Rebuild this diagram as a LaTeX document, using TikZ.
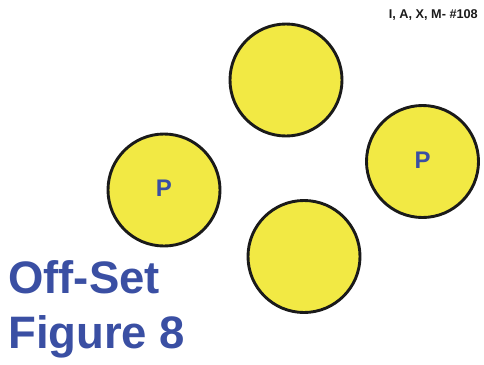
\documentclass[tikz,border=0pt]{standalone}
\usepackage{fontspec}
\setmainfont{Liberation Sans}
\usepackage{xcolor}
\usetikzlibrary{positioning}
\definecolor{ballyel}{HTML}{F2E944}
\definecolor{titleblue}{HTML}{3A4FA3}
\definecolor{ink}{HTML}{1A1A1A}
\tikzset{
  ball/.style={circle,draw=ink,fill=ballyel,line width=2.9pt,
               minimum size=112pt,inner sep=0pt,
               font=\fontsize{24}{24}\selectfont\bfseries,text=titleblue},
  bigtitle/.style={anchor=base west,inner sep=0pt,text=titleblue,
                   font=\fontsize{45.5}{46}\selectfont\bfseries},
  tag/.style={anchor=base east,inner sep=0pt,text=ink,
              font=\fontsize{12.7}{13}\selectfont\bfseries}
}
\begin{document}
\begin{tikzpicture}[x=1pt,y=-1pt]
  \useasboundingbox (0,0) rectangle (484,364);
  % four balls
  \node[ball] (top) at (286,80) {};
  \node[ball] (right) at (422.5,161.5) {\raisebox{3pt}{P}};
  \node[ball] (left) at (164,190) {\raisebox{4pt}{P}};
  \node[ball] (bottom) at (304,256.5) {};
  % labels
  \node[tag] (code) at (478,18) {I, A, X, M- \#108};
  \node[bigtitle] (title1) at (8,293) {Off-Set};
  \node[bigtitle] (title2) at (8,348) {Figure 8};
\end{tikzpicture}
\end{document}
